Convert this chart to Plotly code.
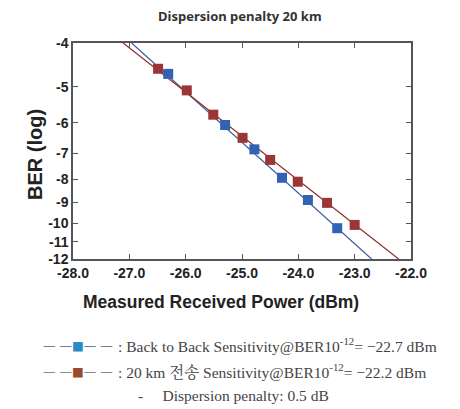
import plotly.graph_objects as go

# ---- data ----
b2b_power = [-26.31, -25.30, -24.78, -24.29, -23.83, -23.31]
b2b_ber_exp = [4.68, 6.07, 6.87, 7.94, 8.89, 10.26]          # -log10(BER)
km20_power = [-26.49, -25.98, -25.51, -24.99, -24.50, -24.01, -23.49, -23.00]
km20_ber_exp = [4.56, 5.09, 5.76, 6.48, 7.25, 8.10, 9.02, 10.09]

# fitted lines (power at BER 1e-4 and at BER 1e-12)
fit_ber_exp = [4, 12]
b2b_fit_power = [-26.96, -22.70]
km20_fit_power = [-27.11, -22.22]

x_ticks = [-28, -27, -26, -25, -24, -23, -22]
x_ticktext = ["-28.0", "-27.0", "-26.0", "-25.0", "-24.0", "-23.0", "-22.0"]
y_ticks = [4, 5, 6, 7, 8, 9, 10, 11, 12]
y_ticktext = ["-4", "-5", "-6", "-7", "-8", "-9", "-10", "-11", "-12"]

title_text = "Dispersion penalty 20 km"
x_title = "Measured Received Power (dBm)"
y_title = "BER (log)"

# ---- layout geometry (page body adds an 8px offset) ----
OFF = 8
W, H = 460 - OFF, 409 - OFF
L, T = 73 - OFF, 43 - OFF
R, B = W - (411 - OFF), H - (259 - OFF)
PW, PH = W - L - R, H - T - B


def px(x):
    return (x - OFF - L) / PW


def py(y):
    return (H - B - (y - OFF)) / PH


BLUE = "#3262b4"
RED = "#9c3636"
BLUE_LINE = "#3c5c98"
RED_LINE = "#8e2c2c"
AXIS = "#555555"

fig = go.Figure()
fig.add_trace(go.Scatter(x=b2b_fit_power, y=fit_ber_exp, mode="lines",
                         line=dict(color=BLUE_LINE, width=1.2), showlegend=False, hoverinfo="skip"))
fig.add_trace(go.Scatter(x=km20_fit_power, y=fit_ber_exp, mode="lines",
                         line=dict(color=RED_LINE, width=1.2), showlegend=False, hoverinfo="skip"))
fig.add_trace(go.Scatter(x=km20_power, y=km20_ber_exp, mode="markers",
                         marker=dict(symbol="square", size=10, color=RED), showlegend=False))
fig.add_trace(go.Scatter(x=b2b_power, y=b2b_ber_exp, mode="markers",
                         marker=dict(symbol="square", size=10, color=BLUE), showlegend=False))

tick_font = dict(family="Liberation Sans, Arial", size=14, color="#222222", weight="bold")

fig.update_xaxes(range=[-28, -22], tickvals=x_ticks, ticktext=x_ticktext,
                 ticks="inside", ticklen=5, tickcolor=AXIS, tickwidth=1,
                 showline=True, linecolor=AXIS, linewidth=1.5, mirror="ticks",
                 showgrid=False, zeroline=False, tickfont=tick_font)
fig.update_yaxes(type="log", range=[1.0791812, 0.6020600], tickvals=y_ticks, ticktext=y_ticktext,
                 ticks="inside", ticklen=5, tickcolor=AXIS, tickwidth=1,
                 showline=True, linecolor=AXIS, linewidth=1.5, mirror="ticks",
                 showgrid=False, zeroline=False, tickfont=tick_font)

serif = "Liberation Serif, Noto Serif CJK KR, Noto Sans CJK KR, serif"
annotations = [
    dict(text=title_text, x=px(240), y=py(16), xref="paper", yref="paper",
         showarrow=False, xanchor="center", yanchor="middle",
         font=dict(family="Noto Sans, Open Sans, sans-serif", size=13, color="#333333", weight="bold")),
    dict(text=y_title, x=px(35), y=py(155), xref="paper", yref="paper", textangle=-90,
         showarrow=False, xanchor="center", yanchor="middle",
         font=dict(family="Liberation Sans, Arial", size=20, color="#222222", weight="bold")),
    dict(text=x_title, x=px(221), y=py(302), xref="paper", yref="paper",
         showarrow=False, xanchor="center", yanchor="middle",
         font=dict(family="Liberation Sans, Arial", size=17.5, color="#222222", weight="bold")),
    dict(text="<span style='color:#6a7f99'>— —</span><span style='color:#2a8cc4'>■</span><span style='color:#6a7f99'>— —</span>",
         x=px(41), y=py(345), xref="paper", yref="paper", showarrow=False,
         xanchor="left", yanchor="middle", font=dict(family="DejaVu Sans", size=12.5)),
    dict(text="<span style='color:#8a8a8a'>— —</span><span style='color:#9a4a30'>■</span><span style='color:#8a8a8a'>— —</span>",
         x=px(41), y=py(371), xref="paper", yref="paper", showarrow=False,
         xanchor="left", yanchor="middle", font=dict(family="DejaVu Sans", size=12.5)),
    dict(text=": Back to Back Sensitivity@BER10<sup>-12</sup>= −22.7 dBm",
         x=px(116), y=py(345), xref="paper", yref="paper", showarrow=False,
         xanchor="left", yanchor="middle", font=dict(family=serif, size=15.5, color="#444444")),
    dict(text=": 20 km 전송 Sensitivity@BER10<sup>-12</sup>= −22.2 dBm",
         x=px(116), y=py(371), xref="paper", yref="paper", showarrow=False,
         xanchor="left", yanchor="middle", font=dict(family=serif, size=15.5, color="#444444")),
    dict(text="-&nbsp;&nbsp;&nbsp;&nbsp; Dispersion penalty: 0.5 dB",
         x=px(136), y=py(395), xref="paper", yref="paper", showarrow=False,
         xanchor="left", yanchor="middle", font=dict(family=serif, size=15.5, color="#444444")),
]

fig.update_layout(width=W, height=H, margin=dict(l=L, r=R, t=T, b=B),
                  paper_bgcolor="white", plot_bgcolor="white",
                  annotations=annotations, showlegend=False)

fig.write_html("out.html")
